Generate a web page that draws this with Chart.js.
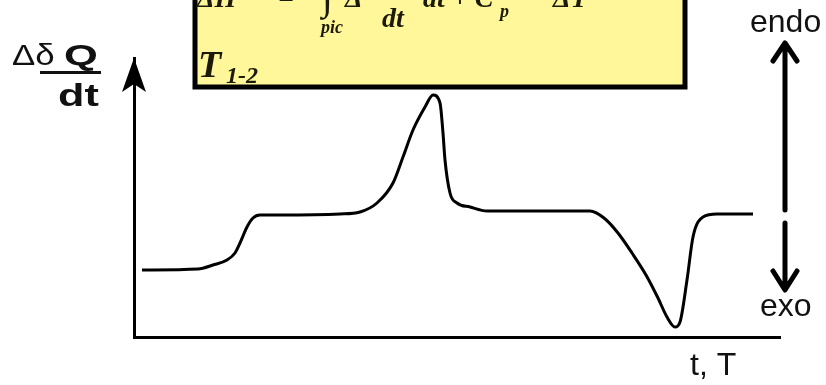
<!DOCTYPE html>
<html>
<head>
<meta charset="utf-8">
<script src="https://cdn.jsdelivr.net/npm/chart.js@4/dist/chart.umd.min.js"></script>
<style>
  html, body { margin: 0; padding: 0; background: #fff; }
  #wrap { width: 826px; height: 385px; }
</style>
</head>
<body>
<div id="wrap"><canvas id="dscChart" width="826" height="385"></canvas></div>
<script>
// DSC sketch curve, arbitrary units (t/T along x, heat flow along y)
const timeValues = [8, 64, 79, 93, 101, 106, 113, 119, 126, 146, 206, 226, 243, 259, 269, 279, 291, 299, 306, 309, 311, 316, 323, 336, 353, 456, 470, 484, 498, 512, 524, 533, 541, 546, 553, 559, 569, 583, 619];
const heatFlowValues = [67, 68, 72, 77, 84, 94, 110, 119, 122, 122, 123, 125, 134, 154, 180, 207, 230, 242, 234, 204, 177, 144, 134, 130, 126, 126, 119, 104, 84, 62, 39, 20, 10, 15, 57, 100, 120, 123, 123];

const xRange = [0, 646];
const yRange = [0, 279];

const points = timeValues.map((t, i) => ({ x: t, y: heatFlowValues[i] }));

const decorations = {
  id: 'decorations',
  afterDraw(chart) {
    const ctx = chart.ctx;
    const area = chart.chartArea;
    ctx.save();

    // arrow head on the y axis
    ctx.fillStyle = '#000';
    ctx.beginPath();
    ctx.moveTo(area.left, area.top);
    ctx.lineTo(area.left - 12, area.top + 34);
    ctx.lineTo(area.left, area.top + 26);
    ctx.lineTo(area.left + 12, area.top + 34);
    ctx.closePath();
    ctx.fill();

    // yellow formula box (top cut off by the frame)
    ctx.fillStyle = 'rgb(255, 247, 153)';
    ctx.fillRect(195, -10, 490, 97);
    ctx.strokeStyle = '#000';
    ctx.lineWidth = 5;
    ctx.strokeRect(195, -10, 490, 97);

    ctx.fillStyle = '#1c1a08';
    ctx.textBaseline = 'alphabetic';
    ctx.textAlign = 'left';
    const serif = "'Liberation Serif', 'DejaVu Serif', serif";
    ctx.font = 'bold italic 28px ' + serif;
    ctx.fillText('\u0394H', 197, 7);
    ctx.fillText('=', 278, 7);
    ctx.fillText('\u0394', 345, 7);
    ctx.fillText('\u03B4Q', 384, -14);
    ctx.fillText('dt', 382, 27);
    ctx.fillText('dt + C', 423, 7);
    ctx.fillText('\u0394T', 553, 7);
    ctx.font = 'bold italic 18px ' + serif;
    ctx.fillText('p', 500, 17);
    ctx.fillText('pic', 321, 33);
    ctx.font = 'bold 40px ' + serif;
    ctx.fillText('\u222B', 322, 9);
    ctx.fillRect(380, -7, 32, 2);

    ctx.font = 'bold italic 38px ' + serif;
    ctx.fillText('T', 198, 77);
    ctx.font = 'bold italic 24px ' + serif;
    ctx.fillText('1-2', 226, 83);

    // y axis label (drawn a bit wider than the font, like the original)
    const sans = "'Liberation Sans', Arial, sans-serif";
    ctx.fillStyle = '#111';
    ctx.save();
    ctx.translate(12, 0);
    ctx.scale(1.2, 1);
    ctx.font = '29px ' + sans;
    ctx.fillText('\u0394\u03B4', 0, 65);
    ctx.restore();
    ctx.save();
    ctx.translate(64, 0);
    ctx.scale(1.45, 1);
    ctx.font = 'bold 30px ' + sans;
    ctx.fillText('Q', 0, 65);
    ctx.restore();
    ctx.fillRect(40, 71, 61, 3);
    ctx.save();
    ctx.translate(58, 0);
    ctx.scale(1.35, 1);
    ctx.font = 'bold 32px ' + sans;
    ctx.fillText('dt', 0, 106);
    ctx.restore();

    // endo / exo
    ctx.font = '32px ' + sans;
    ctx.fillText('endo', 750, 32);
    ctx.fillText('exo', 760, 316);
    ctx.fillText('t, T', 690, 375);

    ctx.strokeStyle = '#000';
    ctx.lineWidth = 5;
    ctx.lineCap = 'round';
    ctx.lineJoin = 'round';
    ctx.beginPath();
    ctx.moveTo(785, 210);
    ctx.lineTo(785, 44);
    ctx.moveTo(773, 61);
    ctx.lineTo(785, 43);
    ctx.lineTo(797, 61);
    ctx.moveTo(785, 223);
    ctx.lineTo(785, 289);
    ctx.moveTo(773, 271);
    ctx.lineTo(785, 290);
    ctx.lineTo(797, 271);
    ctx.stroke();

    ctx.restore();
  }
};

new Chart(document.getElementById('dscChart'), {
  type: 'line',
  data: {
    datasets: [{
      data: points,
      borderColor: '#000',
      borderWidth: 3,
      pointRadius: 0,
      cubicInterpolationMode: 'monotone',
      fill: false
    }]
  },
  options: {
    responsive: false,
    animation: false,
    layout: {
      padding: { left: 134, top: 58, right: 46, bottom: 48 }
    },
    plugins: {
      legend: { display: false },
      tooltip: { enabled: false }
    },
    scales: {
      x: {
        type: 'linear',
        min: xRange[0],
        max: xRange[1],
        ticks: { display: false },
        grid: { display: false, drawTicks: false },
        border: { color: '#000', width: 3 }
      },
      y: {
        type: 'linear',
        min: yRange[0],
        max: yRange[1],
        ticks: { display: false },
        grid: { display: false, drawTicks: false },
        border: { color: '#000', width: 3 }
      }
    }
  },
  plugins: [decorations]
});
</script>
</body>
</html>
